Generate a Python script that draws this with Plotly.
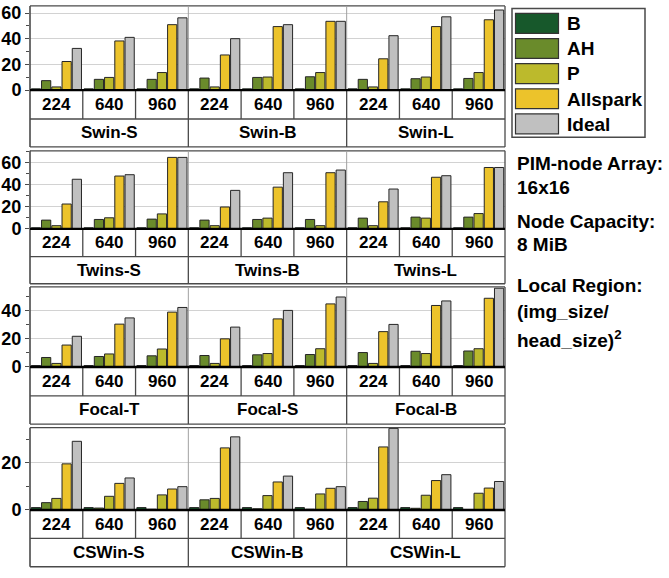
import plotly.graph_objects as go

# ---------------- data ----------------
series = ["B", "AH", "P", "Allspark", "Ideal"]
colors = ["#17582b", "#6a8b2b", "#bcba2c", "#ecc32b", "#c0c0c0"]
img_sizes = ["224", "640", "960"]

swin_models = ["Swin-S", "Swin-B", "Swin-L"]
swin_b = [1.0, 1.0, 1.0, 1.0, 1.0, 1.0, 1.0, 1.0, 1.0]
swin_ah = [7.4, 8.4, 8.4, 9.4, 9.9, 10.4, 8.4, 8.9, 9.1]
swin_p = [2.5, 9.9, 13.7, 2.5, 10.2, 13.7, 2.5, 10.2, 13.7]
swin_allspark = [22.3, 38.3, 51.0, 27.4, 49.5, 53.6, 24.4, 49.5, 54.8]
swin_ideal = [32.5, 41.1, 56.3, 40.1, 51.0, 53.6, 42.4, 57.1, 62.4]

twins_models = ["Twins-S", "Twins-B", "Twins-L"]
twins_b = [1.0, 1.0, 1.0, 1.0, 1.0, 1.0, 1.0, 1.0, 1.0]
twins_ah = [7.9, 8.5, 8.8, 7.9, 8.5, 8.5, 9.7, 10.6, 10.6]
twins_p = [2.9, 10.0, 13.5, 2.9, 9.7, 2.9, 2.9, 9.7, 13.8]
twins_allspark = [22.4, 47.6, 64.4, 19.7, 37.6, 50.6, 24.4, 46.5, 55.3]
twins_ideal = [44.7, 48.8, 64.4, 34.7, 50.6, 53.0, 35.9, 47.9, 55.3]

focal_models = ["Focal-T", "Focal-S", "Focal-B"]
focal_b = [1.0, 1.0, 1.0, 1.0, 1.0, 1.0, 1.0, 1.0, 1.0]
focal_ah = [6.7, 7.4, 7.9, 8.1, 8.6, 8.8, 10.2, 11.1, 11.3]
focal_p = [2.5, 9.2, 12.7, 2.5, 9.5, 12.9, 2.5, 9.5, 12.9]
focal_allspark = [15.5, 30.3, 38.8, 19.9, 34.0, 44.6, 25.0, 43.5, 48.6]
focal_ideal = [21.7, 34.7, 42.1, 28.2, 40.0, 49.5, 30.1, 46.7, 55.7]

cswin_models = ["CSWin-S", "CSWin-B", "CSWin-L"]
cswin_b = [1.0, 1.0, 1.0, 1.0, 1.0, 1.0, 1.0, 1.0, 1.0]
cswin_ah = [3.1, 0.8, 0.3, 4.3, 0.5, 0.3, 3.6, 0.7, 0.2]
cswin_p = [4.9, 5.8, 6.4, 4.9, 6.1, 6.8, 5.0, 6.25, 7.1]
cswin_allspark = [19.6, 11.3, 8.9, 26.4, 11.9, 9.2, 26.8, 12.5, 9.3]
cswin_ideal = [29.2, 13.6, 9.9, 31.1, 14.4, 9.9, 34.7, 15.0, 12.1]

y_max = [65.6, 70.3, 56.6, 35.0]

notes = ["PIM-node Array:", "16x16", "Node Capacity:", "8 MiB",
         "Local Region:", "(img_size/", "head_size)<sup>2</sup>"]

rows = [
    (swin_models, [swin_b, swin_ah, swin_p, swin_allspark, swin_ideal]),
    (twins_models, [twins_b, twins_ah, twins_p, twins_allspark, twins_ideal]),
    (focal_models, [focal_b, focal_ah, focal_p, focal_allspark, focal_ideal]),
    (cswin_models, [cswin_b, cswin_ah, cswin_p, cswin_allspark, cswin_ideal]),
]

# ---------------- geometry (pixels) ----------------
W, H = 669, 578
LEFT, RIGHT = 30, 505
# top of plot, zero line, bottom of size row, bottom of model row
frames = [
    (4, 90, 119.5, 148),
    (152, 231.7, 260, 287.7),
    (291, 372.7, 402.3, 431),
    (434.7, 518.7, 547.7, 576.7),
]
N_SUB = 9
SUB_W = (RIGHT - LEFT) / N_SUB
note_y = [165, 189, 224, 248, 290, 316, 344]


def px(x):
    return x / W


def py(y):
    return 1 - y / H


FONT = "Arial, Liberation Sans, sans-serif"
DARK = "#4a4a4a"

fig = go.Figure()
shapes = []
annotations = []
layout_axes = {}


def hline(x0, x1, y, color=DARK, width=1.3):
    shapes.append(dict(type="line", xref="paper", yref="paper",
                       x0=px(x0), x1=px(x1), y0=py(y), y1=py(y),
                       line=dict(color=color, width=width)))


def vline(x, y0, y1, color=DARK, width=1.3):
    shapes.append(dict(type="line", xref="paper", yref="paper",
                       x0=px(x), x1=px(x), y0=py(y0), y1=py(y1),
                       line=dict(color=color, width=width)))


for r, (models, vals) in enumerate(rows):
    suffix = "" if r == 0 else str(r + 1)
    T, Z, L, G = frames[r]
    for s, (name, color) in enumerate(zip(series, colors)):
        fig.add_trace(go.Bar(
            x=list(range(N_SUB)), y=vals[s], name=name,
            marker=dict(color=color, line=dict(color="#262626", width=1)),
            xaxis="x" + suffix, yaxis="y" + suffix, showlegend=False,
        ))
    layout_axes["xaxis" + suffix] = dict(
        domain=[px(LEFT), px(RIGHT)], range=[-0.5, N_SUB - 0.5],
        anchor="y" + suffix, showticklabels=False, ticks="",
        showgrid=False, zeroline=False, showline=False, fixedrange=True,
    )
    layout_axes["yaxis" + suffix] = dict(
        domain=[py(Z), py(T)], range=[0, y_max[r]], anchor="x" + suffix,
        dtick=20, tick0=0, ticks="outside", ticklen=4, tickwidth=1.2,
        tickcolor=DARK,
        minor=dict(dtick=10, tick0=0, ticks="outside", ticklen=3,
                   tickwidth=1, tickcolor=DARK, showgrid=False),
        showgrid=True, gridcolor="#d2d2d2", gridwidth=1,
        zeroline=False, showline=False, fixedrange=True,
        tickfont=dict(family=FONT, size=18, color="black", weight="bold"),
    )

    # frame of the panel and the label table beneath it
    hline(LEFT, RIGHT, T)
    vline(LEFT, T, G, width=1.6)
    vline(RIGHT, T, G)
    hline(LEFT, RIGHT, L)
    hline(LEFT, RIGHT, G)
    for k in range(1, N_SUB):
        xk = LEFT + k * SUB_W
        if k % 3 == 0:
            vline(xk, T, Z, color="#a0a0a0", width=1)
            vline(xk, Z, G)
        else:
            vline(xk, Z, L)
    hline(LEFT, RIGHT, Z, color="black", width=2.4)

    for k in range(N_SUB):
        annotations.append(dict(
            text=img_sizes[k % 3], xref="x" + suffix, yref="paper",
            x=k, y=py((Z + L) / 2), showarrow=False,
            xanchor="center", yanchor="middle",
            font=dict(family=FONT, size=17, color="black", weight="bold"),
        ))
    for m, model in enumerate(models):
        annotations.append(dict(
            text=model, xref="x" + suffix, yref="paper",
            x=3 * m + 1, y=py((L + G) / 2), showarrow=False,
            xanchor="center", yanchor="middle",
            font=dict(family=FONT, size=17, color="black", weight="bold"),
        ))

# ---------------- legend ----------------
shapes.append(dict(type="rect", xref="paper", yref="paper",
                   x0=px(512), x1=px(645), y0=py(138), y1=py(6.7),
                   line=dict(color=DARK, width=1.5), fillcolor="white"))
for i, (name, color) in enumerate(zip(series, colors)):
    top = 11.7 + i * 25.65
    shapes.append(dict(type="rect", xref="paper", yref="paper",
                       x0=px(515.5), x1=px(558.5), y0=py(top + 20.3), y1=py(top),
                       line=dict(color="#333333", width=1.2), fillcolor=color))
    annotations.append(dict(
        text=name, xref="paper", yref="paper", x=px(564.5), y=py(top + 10.5),
        showarrow=False, xanchor="left", yanchor="middle",
        font=dict(family=FONT, size=19, color="black", weight="bold"),
    ))

# ---------------- configuration notes ----------------
for text, yc in zip(notes, note_y):
    annotations.append(dict(
        text=text, xref="paper", yref="paper", x=px(515), y=py(yc),
        showarrow=False, xanchor="left", yanchor="middle",
        font=dict(family=FONT, size=19, color="black", weight="bold"),
    ))

fig.update_layout(
    width=W, height=H, autosize=False,
    margin=dict(l=0, r=0, t=0, b=0),
    paper_bgcolor="white", plot_bgcolor="white",
    barmode="group", bargap=0.03, bargroupgap=0.1,
    font=dict(family=FONT, color="black"),
    shapes=shapes, annotations=annotations,
    showlegend=False,
    **layout_axes,
)

fig.write_html("out.html")
